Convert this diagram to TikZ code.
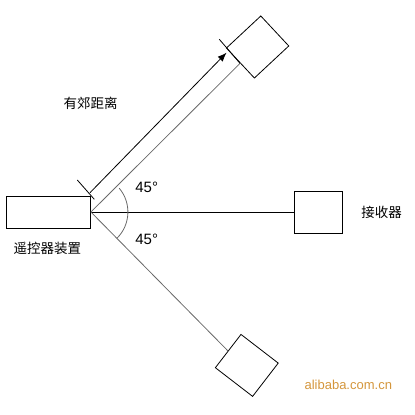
\documentclass[tikz,border=0pt]{standalone}
\usepackage{fontspec}
\setmainfont{Liberation Sans}
\newfontfamily\cjk{Noto Sans CJK SC}
\usetikzlibrary{arrows.meta, calc, positioning}
\definecolor{raygray}{RGB}{105,105,105}
\definecolor{webtag}{RGB}{212,150,60}

\begin{document}
\begin{tikzpicture}[
    x=1pt, y=-1pt,
    font=\fontsize{15}{17}\selectfont,
    box/.style={draw, rectangle, inner sep=0pt, line width=0.8pt},
    ray/.style={draw=raygray, line width=0.8pt},
    cnlabel/.style={font=\fontsize{13.5}{15}\selectfont\cjk}
]
    \useasboundingbox (0,0) rectangle (415,415);

    % Nodes
    \node[box, minimum width=84pt, minimum height=32pt] (remote) at (48.5,212) {};
    \coordinate (src) at (remote.east);
    \node[box, minimum width=48pt, minimum height=42pt] (recv) at (318,212) {};
    \node[box, minimum width=47pt, minimum height=41pt, rotate=43] (upper) at (257.6,47) {};
    \node[box, minimum width=47pt, minimum height=42pt, rotate=-37.6] (lower) at (246.8,365.4) {};

    % Labels
    \node[cnlabel] (dist) at (90.7,103.3) {有郊距离};
    \node[cnlabel] (recvname) at (381.7,212.7) {接收器};
    \node[cnlabel] (remotename) at (47.3,248.3) {遥控器装置};
    \node (angup) at (146.7,187) {45°};
    \node (angdown) at (146.7,239) {45°};
    \node[text=webtag, font=\fontsize{13}{15}\selectfont] (site) at (348.3,385) {alibaba.com.cn};

    % Rays
    \draw[ray] (src) -- (upper.west);
    \draw[line width=0.8pt] (src) -- (recv.west);
    \draw[ray] (src) -- (lower.west);
    \draw[line width=0.8pt, raygray] (src) ++(-40:37) arc[start angle=-40, end angle=45, radius=37];

    % Distance arrow
    \coordinate (from) at (90,192.7);
    \coordinate (to) at (226.5,52.7);
    \coordinate (tickA1) at (77.3,180);
    \coordinate (tickA2) at (94.3,199.3);
    \coordinate (tickB1) at (219.3,39.3);
    \coordinate (tickB2) at (240,63.3);
    \draw[-{Latex[length=9pt, width=7pt]}, line width=0.8pt] (from) -- (to);
    \draw[line width=0.8pt] (tickA1) -- (tickA2);
    \draw[line width=0.8pt] (tickB1) -- (tickB2);
\end{tikzpicture}
\end{document}
